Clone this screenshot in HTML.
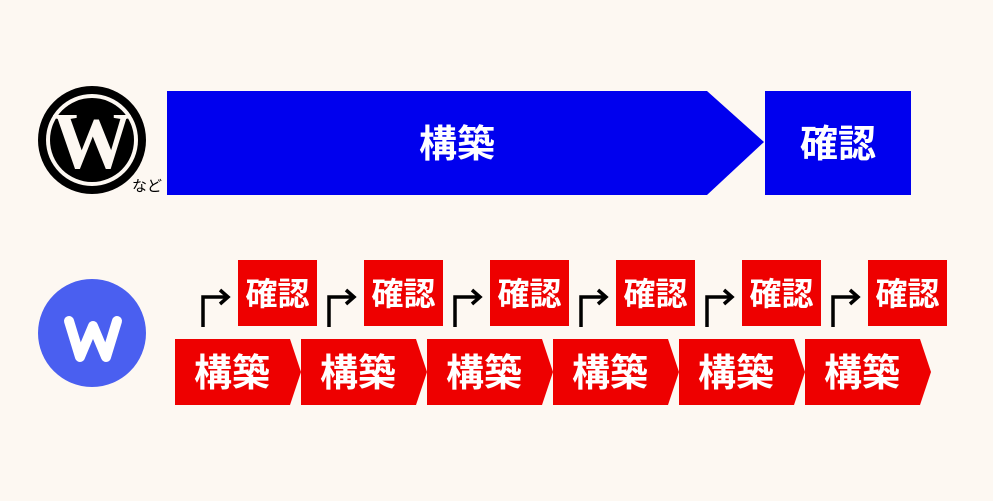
<!DOCTYPE html>
<html><head><meta charset="utf-8"><style>
html,body{margin:0;padding:0;background:#fdf8f2;}
svg{display:block}
text{font-family:"Liberation Sans","Noto Sans CJK JP",sans-serif;font-weight:bold;fill:#fff;}
</style></head><body>
<svg width="993" height="501" viewBox="0 0 993 501">
<defs>
<g id="bld"><polygon points="0,339 115,339 126,372 115,405 0,405" fill="#ee0000"/><text x="57" y="386" text-anchor="middle" style="font-size:38px">構築</text></g>
<g id="cnf"><rect x="35" y="260" width="79" height="66" fill="#ee0000"/><text x="74.5" y="305" text-anchor="middle" style="font-size:32px">確認</text>
<polyline points="0,327 0,297 24,297" fill="none" stroke="#000" stroke-width="3.5"/>
<polyline points="17,290 25,297 17,304" fill="none" stroke="#000" stroke-width="3.5"/></g>
</defs>
<rect width="993" height="501" fill="#fdf8f2"/>
<circle cx="92" cy="140" r="54" fill="#000"/>
<circle cx="92" cy="140" r="46" fill="#fdf8f2"/>
<circle cx="92" cy="140" r="42" fill="#000"/>
<text x="92" y="168" text-anchor="middle" style="font-family:'Liberation Serif',serif;font-size:80px;fill:#fdf8f2">W</text>
<text x="132" y="191" style="font-size:15px;font-weight:normal;fill:#000">など</text>
<polygon points="167,91 707,91 764,142 707,195 167,195" fill="#0000ee"/>
<text x="457" y="157" text-anchor="middle" style="font-size:38px">構築</text>
<rect x="765" y="91" width="146" height="104" fill="#0000ee"/>
<text x="838" y="157" text-anchor="middle" style="font-size:38px">確認</text>
<circle cx="92" cy="333" r="54" fill="#4a5ff0"/>
<polyline points="69,321 80,357 93,326 106,357 117,321" fill="none" stroke="#fff" stroke-width="10" stroke-linecap="round" stroke-linejoin="round"/>
<use href="#bld" x="175"/><use href="#bld" x="301"/><use href="#bld" x="427"/><use href="#bld" x="553"/><use href="#bld" x="679"/><use href="#bld" x="805"/>
<use href="#cnf" x="203"/><use href="#cnf" x="329"/><use href="#cnf" x="455"/><use href="#cnf" x="581"/><use href="#cnf" x="707"/><use href="#cnf" x="833"/>
</svg>
</body></html>
